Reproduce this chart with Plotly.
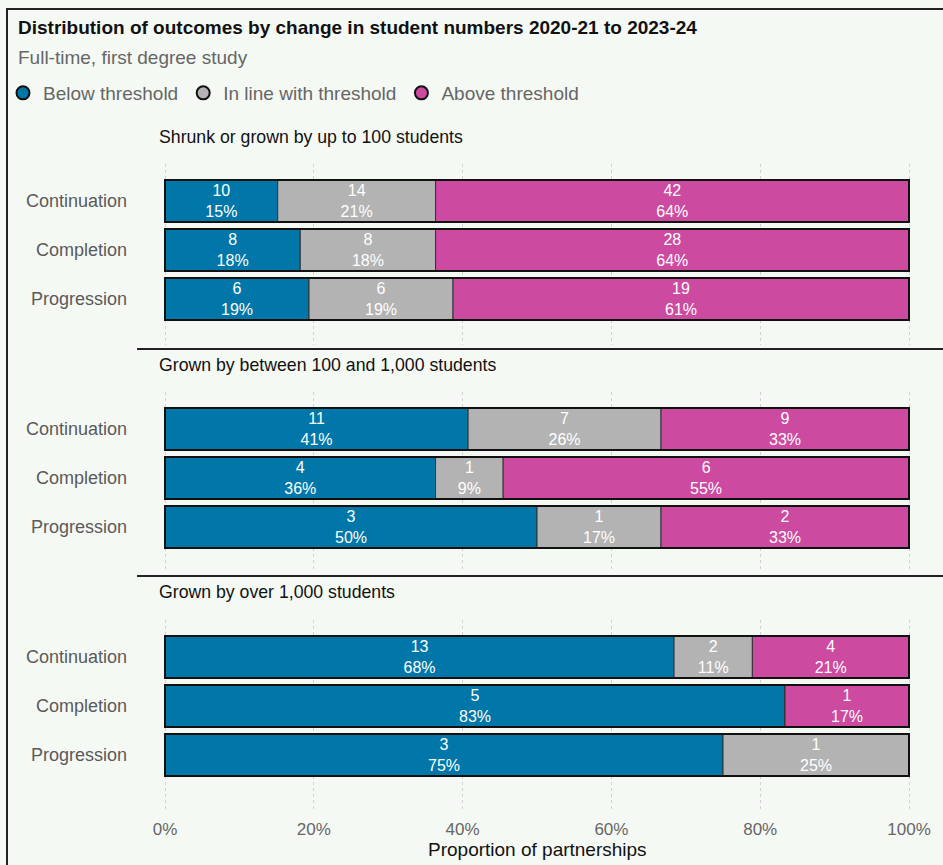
import plotly.graph_objects as go

W, H = 943, 865

# ---- data -------------------------------------------------------------
groups = [
    "Shrunk or grown by up to 100 students",
    "Grown by between 100 and 1,000 students",
    "Grown by over 1,000 students",
]
measures = ["Continuation", "Completion", "Progression"]
outcomes = ["Below threshold", "In line with threshold", "Above threshold"]

# counts of partnerships per group (rows follow `measures`)
below_threshold = [[10, 8, 6], [11, 4, 3], [13, 5, 3]]
inline_threshold = [[14, 8, 6], [7, 1, 1], [2, 0, 1]]
above_threshold = [[42, 28, 19], [9, 6, 2], [4, 1, 0]]

x_ticks = [0, 0.2, 0.4, 0.6, 0.8, 1.0]

# ---- styling ------------------------------------------------------------
colors = ["#0077a8", "#b3b3b3", "#cc4aa0"]
bg = "#f5f9f4"
font = "Liberation Sans, Arial, sans-serif"
grey_text = "#666666"

def py(px):
    return 1 - px / H

def pxx(px):
    return px / W

row_px = 49.0        # pixel distance between bar centres
bar_w = 42 / row_px  # bar thickness in category units
# (top, bottom, first bar centre) of each panel, in pixels
panels = [(164, 345, 201), (392, 572, 429), (620, 812, 657)]
x_dom = [pxx(160), pxx(914)]
pad = 5 / 744

fig = go.Figure()
series = [below_threshold, inline_threshold, above_threshold]

for p, (top, bot, c0) in enumerate(panels):
    ax = "" if p == 0 else str(p + 1)
    xa, ya = "x" + ax, "y" + ax
    totals = [sum(s[p][i] for s in series) for i in range(len(measures))]
    base = [0.0] * len(measures)
    for k, s in enumerate(series):
        counts = s[p]
        shares = [c / t for c, t in zip(counts, totals)]
        labels = [
            f"{c}<br>{int(c / t * 100 + 0.5)}%" if c > 0 else ""
            for c, t in zip(counts, totals)
        ]
        fig.add_trace(go.Bar(
            orientation="h", y=list(range(len(measures))), x=shares, base=list(base),
            width=bar_w, marker=dict(color=colors[k], line=dict(color="#333333", width=1)),
            text=labels, textposition="inside", insidetextanchor="middle", textangle=0,
            textfont=dict(color="white", size=16, family=font),
            xaxis=xa, yaxis=ya, showlegend=False, hoverinfo="skip",
        ))
        base = [b + sh for b, sh in zip(base, shares)]
    # black outline around each complete bar
    fig.add_trace(go.Bar(
        orientation="h", y=list(range(len(measures))), x=base, base=[0] * len(measures),
        width=bar_w, marker=dict(color="rgba(0,0,0,0)", line=dict(color="#111111", width=2)),
        xaxis=xa, yaxis=ya, showlegend=False, hoverinfo="skip",
    ))

    fig.layout["xaxis" + ax] = dict(
        domain=x_dom, range=[-pad, 1 + pad], anchor=ya, automargin=False,
        tickvals=x_ticks, tickformat=".0%", showticklabels=(p == 2),
        showgrid=True, gridcolor="#d2d2d2", griddash="dot", gridwidth=1,
        zeroline=False, showline=False, ticks="", ticklabelstandoff=5,
        tickfont=dict(size=17, color=grey_text, family=font),
    )
    fig.layout["yaxis" + ax] = dict(
        domain=[py(bot), py(top)], anchor=xa, automargin=False,
        range=[(bot - c0) / row_px, (top - c0) / row_px],
        tickvals=list(range(len(measures))), ticktext=measures,
        showgrid=False, zeroline=False, showline=False, ticks="",
        ticklabelstandoff=32,
        tickfont=dict(size=18, color="#5a5a5a", family=font),
    )

# legend entries with outlined circle symbols
for name, col in zip(outcomes, colors):
    fig.add_trace(go.Scatter(
        x=[None], y=[None], mode="markers", name=name,
        marker=dict(symbol="circle", size=13, color=col, line=dict(color="#111111", width=2)),
    ))

annotations = [
    dict(text="<b>Distribution of outcomes by change in student numbers 2020-21 to 2023-24</b>",
         x=pxx(16), y=py(28), font=dict(size=19, color="#111111", family=font)),
    dict(text="Full-time, first degree study",
         x=pxx(16), y=py(58), font=dict(size=19, color=grey_text, family=font)),
]
for g, ypx in zip(groups, [137, 365, 592]):
    annotations.append(dict(text=g, x=pxx(157), y=py(ypx),
                            font=dict(size=17.7, color="#111111", family=font)))
for a in annotations:
    a.update(xref="paper", yref="paper", xanchor="left", yanchor="middle", showarrow=False)

# x-axis title under the bottom panel
annotations.append(dict(
    text="Proportion of partnerships", xref="x3 domain", x=0.5, yref="paper", y=py(849),
    xanchor="center", yanchor="middle", showarrow=False,
    font=dict(size=19, color="#111111", family=font),
))

shapes = [
    dict(type="rect", xref="paper", yref="paper", x0=pxx(7), x1=1.05, y0=-0.05, y1=py(9),
         line=dict(color="#222222", width=2), fillcolor="rgba(0,0,0,0)", layer="below"),
]
for ypx in [349, 576]:
    shapes.append(dict(type="line", xref="paper", yref="paper", x0=pxx(137), x1=1.0,
                       y0=py(ypx), y1=py(ypx), line=dict(color="#222222", width=2)))

fig.update_layout(
    width=W, height=H, margin=dict(l=0, r=0, t=0, b=0, autoexpand=False),
    paper_bgcolor=bg, plot_bgcolor=bg, barmode="overlay",
    font=dict(family=font),
    uniformtext=dict(minsize=16, mode="show"),
    annotations=annotations, shapes=shapes,
    legend=dict(orientation="h", x=pxx(3), y=py(93), xanchor="left", yanchor="middle",
                font=dict(size=19, color=grey_text, family=font),
                bgcolor="rgba(0,0,0,0)", itemwidth=30, tracegroupgap=0),
)

fig.write_html("out.html")
